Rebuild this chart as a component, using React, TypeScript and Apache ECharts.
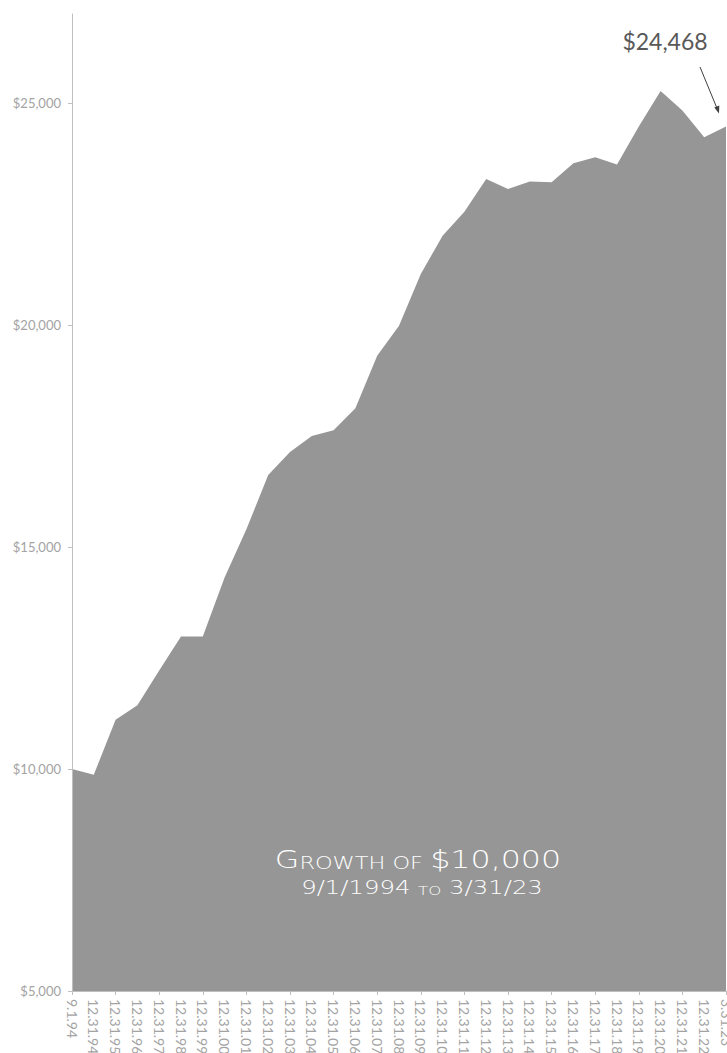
import React, { useEffect, useRef } from "react";
import * as echarts from "echarts";

const categories = [
  "9.1.94", "12.31.94", "12.31.95", "12.31.96", "12.31.97", "12.31.98",
  "12.31.99", "12.31.00", "12.31.01", "12.31.02", "12.31.03", "12.31.04",
  "12.31.05", "12.31.06", "12.31.07", "12.31.08", "12.31.09", "12.31.10",
  "12.31.11", "12.31.12", "12.31.13", "12.31.14", "12.31.15", "12.31.16",
  "12.31.17", "12.31.18", "12.31.19", "12.31.20", "12.31.21", "12.31.22",
  "3.31.23",
];

const growthValues = [
  10000, 9870, 11110, 11433, 12215, 12982, 12982, 14312, 15395, 16619,
  17138, 17499, 17627, 18123, 19302, 19979, 21144, 22008, 22549, 23286,
  23061, 23226, 23212, 23640, 23776, 23609, 24466, 25264, 24826, 24227,
  24468,
];

const yTickValues = [5000, 10000, 15000, 20000, 25000];

const endLabel = "$24,468";
const titleLine1 = ["G", "ROWTH OF ", "$10,000"];
const titleLine2 = ["9/1/1994 ", "TO", " 3/31/23"];

export default function App() {
  const ref = useRef<HTMLDivElement>(null);

  useEffect(() => {
    if (!ref.current) return;
    const chart = echarts.init(ref.current, undefined, { renderer: "svg" });
    const axisGrey = "#bfbfbf";
    const labelGrey = "#a3a3a3";
    const fmt = (v: number) => "$" + v.toLocaleString("en-US");
    const titleFont = "DejaVu Sans";

    chart.setOption({
      animation: false,
      backgroundColor: "#ffffff",
      grid: {
        left: 72,
        right: 1,
        top: 14,
        bottom: 62,
        containLabel: false,
        outerBoundsMode: "none",
      },
      xAxis: {
        type: "category",
        data: categories,
        boundaryGap: false,
        axisLine: { show: true, lineStyle: { color: axisGrey, width: 1 } },
        axisTick: { show: true, interval: 1, length: 4, lineStyle: { color: axisGrey } },
        axisLabel: {
          interval: 0,
          rotate: -90,
          margin: 8,
          color: labelGrey,
          fontFamily: "Lato",
          fontSize: 14,
        },
        splitLine: { show: false },
      },
      yAxis: {
        type: "value",
        min: 5000,
        max: 27000,
        axisLine: { show: true, lineStyle: { color: axisGrey, width: 1 } },
        axisTick: {
          show: true,
          length: 4,
          lineStyle: { color: axisGrey },
          customValues: yTickValues,
        },
        axisLabel: {
          customValues: yTickValues,
          formatter: (v: number) => fmt(v),
          color: labelGrey,
          fontFamily: "Lato",
          fontSize: 13,
          margin: 11,
        },
        splitLine: { show: false },
      },
      series: [
        {
          type: "line",
          data: growthValues,
          symbol: "none",
          lineStyle: { width: 0 },
          areaStyle: { color: "#969696", opacity: 1 },
          z: 0,
        },
      ],
      graphic: [
        {
          type: "text",
          x: 665,
          y: 41,
          z: 100,
          style: {
            text: endLabel,
            fill: "#595959",
            font: "23px Lato",
            align: "center",
            verticalAlign: "middle",
          },
        },
        {
          type: "line",
          z: 100,
          shape: { x1: 700, y1: 67, x2: 717.5, y2: 109.5 },
          style: { stroke: "#404040", lineWidth: 1 },
        },
        {
          type: "polygon",
          z: 100,
          shape: {
            points: [
              [719, 113.5],
              [714.3, 107.6],
              [719.3, 105.6],
            ],
          },
          style: { fill: "#404040" },
        },
        {
          type: "text",
          x: 418,
          y: 872,
          scaleX: 1.32,
          z: 100,
          style: {
            text:
              "{a|" + titleLine1[0] + "}{b|" + titleLine1[1] + "}{a|" + titleLine1[2] + "}",
            align: "center",
            verticalAlign: "bottom",
            fill: "#ffffff",
            rich: {
              a: { fontFamily: titleFont, fontWeight: 200, fontSize: 24, lineHeight: 26, fill: "#ffffff", verticalAlign: "bottom" },
              b: { fontFamily: titleFont, fontWeight: 200, fontSize: 17, lineHeight: 26, fill: "#ffffff", verticalAlign: "bottom" },
            },
          },
        },
        {
          type: "text",
          x: 422,
          y: 897,
          scaleX: 1.28,
          z: 100,
          style: {
            text:
              "{c|" + titleLine2[0] + "}{d|" + titleLine2[1] + "}{c|" + titleLine2[2] + "}",
            align: "center",
            verticalAlign: "bottom",
            fill: "#ffffff",
            rich: {
              c: { fontFamily: titleFont, fontWeight: 200, fontSize: 19, lineHeight: 22, fill: "#ffffff", verticalAlign: "bottom" },
              d: { fontFamily: titleFont, fontWeight: 200, fontSize: 13, lineHeight: 22, fill: "#ffffff", verticalAlign: "bottom" },
            },
          },
        },
      ],
    });

    return () => chart.dispose();
  }, []);

  return (
    <div
      ref={ref}
      style={{ position: "absolute", left: 0, top: 0, width: 727, height: 1053 }}
    />
  );
}
